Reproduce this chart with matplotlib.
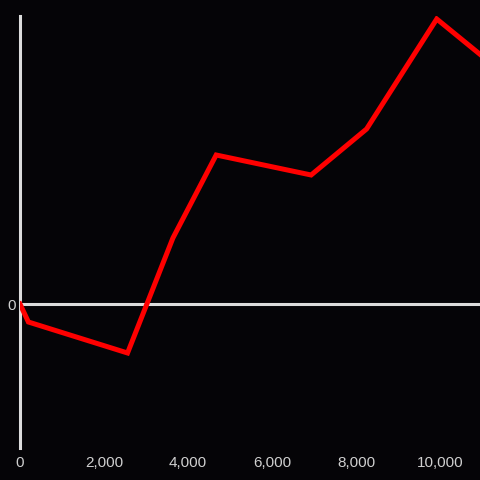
import matplotlib.pyplot as plt
from matplotlib.ticker import FuncFormatter

# series values
x_vals = [0, 200, 2560, 3640, 4670, 6930, 8250, 9920, 10970]
y_vals = [0, -18, -49, 66, 149, 129, 175, 285, 249]
x_ticks = [0, 2000, 4000, 6000, 8000, 10000]

bg = "#050407"
axis_col = "#dcdcdc"
text_col = "#cfcfcf"

plt.rcParams["font.family"] = ["Liberation Sans", "DejaVu Sans"]

fig = plt.figure(figsize=(4.8, 4.8), dpi=100, facecolor=bg)
ax = fig.add_axes([20 / 480, 32 / 480, 460 / 480, 432 / 480], facecolor=bg)

ax.plot(x_vals, y_vals, color="#ff0000", linewidth=3.6, solid_joinstyle="miter",
        clip_on=True, zorder=3)
ax.axhline(0, color=axis_col, linewidth=2.2, zorder=2)

ax.set_xlim(0, 10950)
ax.set_ylim(-144, 288)

for side in ["top", "right", "bottom"]:
    ax.spines[side].set_visible(False)
ax.spines["left"].set_color(axis_col)
ax.spines["left"].set_linewidth(2.2)

ax.set_xticks(x_ticks)
ax.xaxis.set_major_formatter(FuncFormatter(lambda v, p: f"{int(v):,}"))
ax.set_yticks([0])
ax.tick_params(axis="both", length=0, colors=text_col, labelsize=11)
ax.tick_params(axis="x", pad=5.5)
ax.tick_params(axis="y", pad=3)

fig.savefig("out.png", dpi=100, facecolor=bg)
